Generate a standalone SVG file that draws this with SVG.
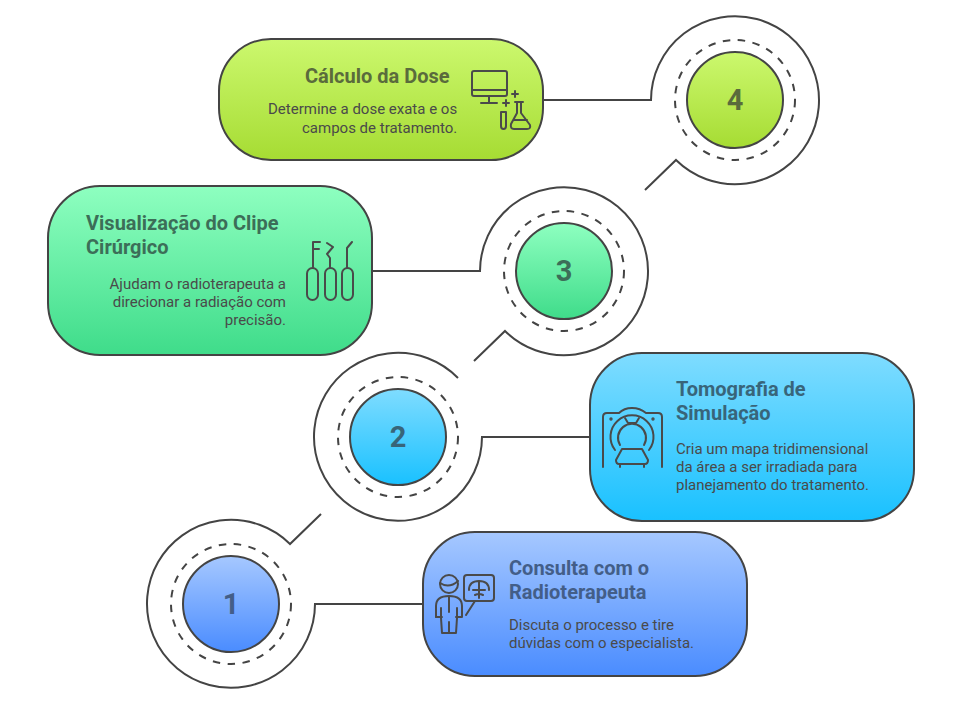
<svg xmlns="http://www.w3.org/2000/svg" width="960" height="701" viewBox="0 0 960 701">
<defs>
<linearGradient id="gBlue" x1="0" y1="0" x2="0" y2="1"><stop offset="0" stop-color="#a6c8ff"/><stop offset="1" stop-color="#4a8cff"/></linearGradient>
<linearGradient id="gCyan" x1="0" y1="0" x2="0" y2="1"><stop offset="0" stop-color="#7fdcff"/><stop offset="1" stop-color="#19c1ff"/></linearGradient>
<linearGradient id="gGreen" x1="0" y1="0" x2="0" y2="1"><stop offset="0" stop-color="#8effc0"/><stop offset="1" stop-color="#3fdc8a"/></linearGradient>
<linearGradient id="gLime" x1="0" y1="0" x2="0" y2="1"><stop offset="0" stop-color="#ccf86e"/><stop offset="1" stop-color="#a6dc33"/></linearGradient>
</defs>
<style>
.box{stroke:#444;stroke-width:2}
.dash{fill:none;stroke:#444;stroke-width:2;stroke-dasharray:7.5 7.5}
.con{fill:none;stroke:#444;stroke-width:2}
.ic{fill:none;stroke:#4a4a4a;stroke-width:2;stroke-linecap:round;stroke-linejoin:round}
text{font-family:Roboto,"Liberation Sans",sans-serif}
.t{font-size:20px;font-weight:700}
.d{font-size:15px;fill:#4a4a4a}
.n{font-size:29px;font-weight:700;text-anchor:middle}
.e{text-anchor:end}
.cb{fill:#435e88}
.cc{fill:#38657a}
.cg{fill:#3c6e58}
.cl{fill:#5a6b3c}
</style>
<g id="connectors">
<path class="con" d="M423 604H315A84 84 0 1 1 290 544L321 514"/>
<path class="con" d="M590 437H482A84 84 0 1 1 458 378"/>
<path class="con" d="M372 271H480A84 84 0 1 1 505 331L474 361"/>
<path class="con" d="M543 100H651A84 84 0 1 1 676 160L645 190"/>
</g>
<g id="node-1">
<circle class="dash" cx="231" cy="604" r="60"/>
<circle class="box" cx="231" cy="604" r="48" fill="url(#gBlue)"/>
<text class="n cb" x="231" y="614">1</text>
</g>
<g id="node-2">
<circle class="dash" cx="398" cy="437" r="60"/>
<circle class="box" cx="398" cy="437" r="48" fill="url(#gCyan)"/>
<text class="n cc" x="398" y="447">2</text>
</g>
<g id="node-3">
<circle class="dash" cx="564" cy="271" r="60"/>
<circle class="box" cx="564" cy="271" r="48" fill="url(#gGreen)"/>
<text class="n cg" x="564" y="281">3</text>
</g>
<g id="node-4">
<circle class="dash" cx="735" cy="100" r="60"/>
<circle class="box" cx="735" cy="100" r="48" fill="url(#gLime)"/>
<text class="n cl" x="735" y="110">4</text>
</g>
<g id="card-1">
<rect class="box" x="423" y="532" width="324" height="144" rx="52" fill="url(#gBlue)"/>
<text class="t cb" x="509" y="575">Consulta com o</text>
<text class="t cb" x="509" y="599">Radioterapeuta</text>
<text class="d" x="509" y="630">Discuta o processo e tire</text>
<text class="d" x="509" y="648">dúvidas com o especialista.</text>
<g class="ic">
<circle cx="449" cy="584" r="9"/><path d="M440 583Q449 589 458 581"/>
<path d="M436 617V606Q436 596 449 596Q462 596 462 606V617H456"/>
<path d="M436 617H442M441 608V618L442 633H456L457 618V608M449 597V612M449 622V633"/>
<rect x="464" y="575" width="30" height="26" rx="3"/>
<path d="M469 590Q469 581 479 581Q489 581 489 590M479 581V598M473 590H485M475 595Q479 593 483 595"/>
<path d="M475 601L466 615"/>
</g>
</g>
<g id="card-2">
<rect class="box" x="590" y="353" width="324" height="168" rx="52" fill="url(#gCyan)"/>
<text class="t cc" x="676" y="396">Tomografia de</text>
<text class="t cc" x="676" y="420">Simulação</text>
<text class="d" x="676" y="454">Cria um mapa tridimensional</text>
<text class="d" x="676" y="472">da área a ser irradiada para</text>
<text class="d" x="676" y="490">planejamento do tratamento.</text>
<g class="ic">
<path d="M603 467V417Q603 413 607 413H619Q624 408 632 408Q640 408 646 413H658Q662 413 662 417V467"/>
<path d="M615 450A21.500 21.500 0 1 1 649 450"/>
<path d="M620 445A14 14 0 1 1 644 445"/>
<path d="M625 418L628 423H636L639 418"/>
<path d="M622 449H642L648 460Q648 464 645 464H619Q616 464 616 460ZM620 464V467M644 464V467"/>
<circle cx="611" cy="419" r="0.7"/><circle cx="653" cy="419" r="0.7"/>
</g>
</g>
<g id="card-3">
<rect class="box" x="48" y="186" width="324" height="169" rx="52" fill="url(#gGreen)"/>
<text class="t cg" x="86" y="230">Visualização do Clipe</text>
<text class="t cg" x="86" y="254">Cirúrgico</text>
<text class="d e" x="286" y="289">Ajudam o radioterapeuta a</text>
<text class="d e" x="286" y="307">direcionar a radiação com</text>
<text class="d e" x="286" y="325">precisão.</text>
<g class="ic">
<rect x="307" y="268" width="11" height="32" rx="5.500"/>
<rect x="325" y="268" width="11" height="32" rx="5.500"/>
<rect x="342" y="268" width="11" height="32" rx="5.500"/>
<path d="M313 268V242H320M313 249H319"/>
<path d="M327 243L333 247L327 254L330 258V268"/>
<path d="M347 268V248L352 242"/>
</g>
</g>
<g id="card-4">
<rect class="box" x="219" y="39" width="324" height="121" rx="52" fill="url(#gLime)"/>
<text class="t cl" x="305" y="83">Cálculo da Dose</text>
<text class="d" x="268" y="114">Determine a dose exata e os</text>
<text class="d" x="302" y="133">campos de tratamento.</text>
<g class="ic">
<rect x="472" y="71" width="35" height="25" rx="2"/>
<path d="M472 90H507M489 96V103M481 103H497"/>
<path d="M512 94H518M515 91V97M503 103H509M506 100V106"/>
<path d="M501 112H506V126Q506 129 503.500 129Q501 129 501 126Z"/>
<path d="M515 102H523M517 102V113L511 124Q510 129 514 129H527Q531 129 530 125L521 113V102M514 120H527"/>
</g>
</g>
</svg>
